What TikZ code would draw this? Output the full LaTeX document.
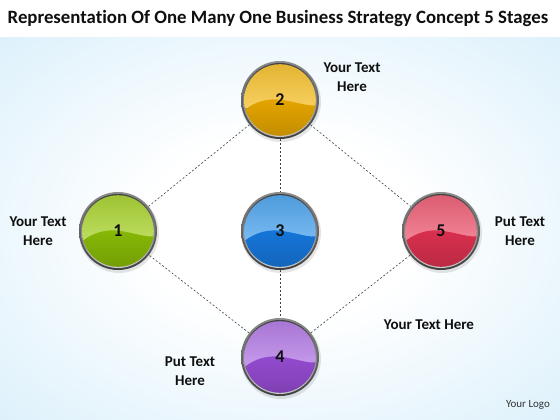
\documentclass[tikz,border=0pt]{standalone}
\usepackage{fontspec}
\setmainfont{Carlito}[Ligatures={NoCommon}]
\definecolor{bgblue}{RGB}{210,236,250}
\definecolor{txt}{RGB}{15,15,15}
\definecolor{gL}{RGB}{172,212,55}\definecolor{gD}{RGB}{135,185,5}
\definecolor{oL}{RGB}{246,196,55}\definecolor{oD}{RGB}{228,165,0}
\definecolor{bL}{RGB}{85,168,238}\definecolor{bD}{RGB}{22,118,218}
\definecolor{rL}{RGB}{238,100,122}\definecolor{rD}{RGB}{218,48,78}
\definecolor{pL}{RGB}{182,128,230}\definecolor{pD}{RGB}{148,75,208}
\pgfdeclareradialshading{bgshade}{\pgfpoint{0bp}{0bp}}{color(0bp)=(white); color(12bp)=(white); color(34bp)=(bgblue!70!white); color(46bp)=(bgblue); color(80bp)=(bgblue)}
\tikzset{
  ballnode/.style={circle,minimum size=78pt,inner sep=0pt,font=\bfseries\fontsize{18}{18}\selectfont,text=txt},
  link/.style={draw=black!75,line width=0.6pt,dash pattern=on 2pt off 2pt},
  lbl/.style={font=\bfseries\fontsize{15}{19}\selectfont,text=txt,align=center,inner sep=0pt}
}
\newcommand\glossyball[6]{%
  \begin{scope}[shift={(#2,#3)}]
    \fill[black,opacity=0.10] (1pt,-2pt) circle (40pt);
    \shade[top color=black!45,bottom color=black!75] (0,0) circle (39pt);
    \shade[top color=black!75,bottom color=black!20] (0,0) circle (37pt);
    \begin{scope}
      \clip (0,0) circle (35.8pt);
      \shade[top color=#4!92!black,bottom color=#4!80!white] (-36,-36) rectangle (36,8);
      \shade[top color=#5,bottom color=#5!85!black]
        (-38,12) .. controls (-25,1) and (-12,-2) .. (2,0) .. controls (18,2) and (28,7) .. (38,5) -- (38,38) -- (-38,38) -- cycle;
    \end{scope}
  \end{scope}
  \node[ballnode] (#1) at (#2,#3) {#6};
}
\begin{document}
\begin{tikzpicture}[x=1pt,y=-1pt]
\useasboundingbox (0,0) rectangle (560,420);
\fill[white] (0,0) rectangle (560,420);
\shade[shading=bgshade] (0,38) rectangle (560,420);
\node[font=\bfseries\fontsize{18.8}{20}\selectfont,text=txt] (title) at (278,18) {Representation Of One Many One Business Strategy Concept 5 Stages};

\glossyball{n1}{118}{231}{gL}{gD}{1}
\glossyball{n2}{280}{100}{oL}{oD}{2}
\glossyball{n3}{280}{231}{bL}{bD}{3}
\glossyball{n4}{280}{357}{pL}{pD}{4}
\glossyball{n5}{441}{231}{rL}{rD}{5}

\draw[link] (n1) -- (n2);
\draw[link] (n2) -- (n5);
\draw[link] (n5) -- (n4);
\draw[link] (n4) -- (n1);
\draw[link] (n2) -- (n3);
\draw[link] (n3) -- (n4);

\node[lbl] (t2) at (352,77) {Your Text\\Here};
\node[lbl] (t1) at (38,231) {Your Text\\Here};
\node[lbl] (t5) at (520,231) {Put Text\\Here};
\node[lbl] (t45) at (429,325) {Your Text Here};
\node[lbl] (t4) at (190,371) {Put Text\\Here};
\node[font=\fontsize{11}{12}\selectfont,text=black!80] (logo) at (528,405) {Your Logo};
\end{tikzpicture}
\end{document}
